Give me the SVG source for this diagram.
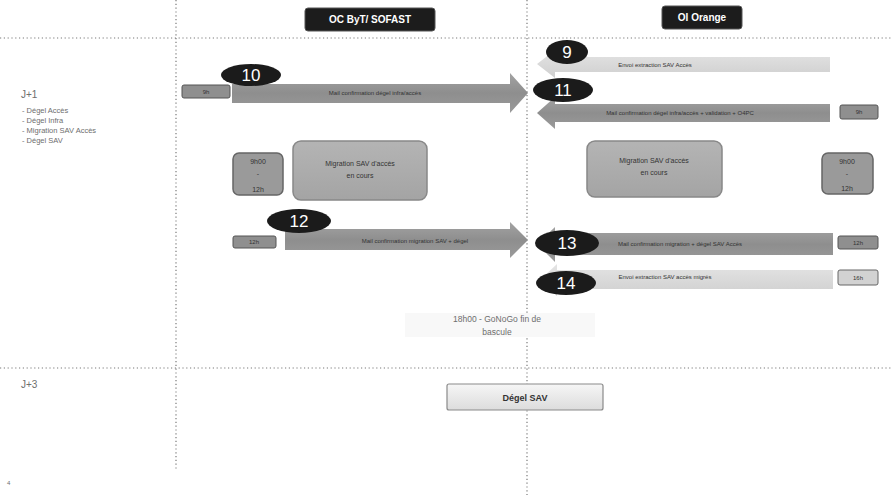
<svg xmlns="http://www.w3.org/2000/svg" width="893" height="503" viewBox="0 0 893 503">
<defs>
<linearGradient id="gDark" x1="0" y1="0" x2="0" y2="1">
<stop offset="0" stop-color="#a3a3a3"/><stop offset="0.5" stop-color="#8e8e8e"/><stop offset="1" stop-color="#9a9a9a"/>
</linearGradient>
<linearGradient id="gLight" x1="0" y1="0" x2="0" y2="1">
<stop offset="0" stop-color="#e4e4e4"/><stop offset="1" stop-color="#cfcfcf"/>
</linearGradient>
<linearGradient id="gBox" x1="0" y1="0" x2="0" y2="1">
<stop offset="0" stop-color="#b4b4b4"/><stop offset="1" stop-color="#a4a4a4"/>
</linearGradient>
<linearGradient id="gDegel" x1="0" y1="0" x2="0" y2="1">
<stop offset="0" stop-color="#f6f6f6"/><stop offset="1" stop-color="#dcdcdc"/>
</linearGradient>
</defs>
<style>
.grid{stroke:#7a7a7a;stroke-width:1.2;stroke-dasharray:1.2 2.6;fill:none}
.hdr{fill:#1c1c1c;stroke:#555;stroke-width:1}
.hdrt{font-family:"Liberation Sans",Arial,sans-serif;font-size:10px;font-weight:bold;fill:#fff;text-anchor:middle}
.lbl{font-family:"Liberation Sans",Arial,sans-serif;fill:#6e6e6e}
.num{fill:#1b1b1b}
.numt{font-family:"Liberation Sans",Arial,sans-serif;font-size:17px;fill:#fff;text-anchor:middle}
.at{font-family:"Liberation Sans",Arial,sans-serif;font-size:6px;fill:#333;text-anchor:middle}
.tbox{fill:#8f8f8f;stroke:#555;stroke-width:1}
.tboxl{fill:#d2d2d2;stroke:#666;stroke-width:1}
.tt{font-family:"Liberation Sans",Arial,sans-serif;font-size:6px;fill:#333;text-anchor:middle}
.mig{fill:url(#gBox);stroke:#888;stroke-width:1.5}
.migs{fill:#9a9a9a;stroke:#666;stroke-width:1.5}
.mt{font-family:"Liberation Sans",Arial,sans-serif;font-size:7px;fill:#333;text-anchor:middle}
</style>

<g id="grid">
<line class="grid" x1="0" y1="38" x2="893" y2="38"/>
<line class="grid" x1="0" y1="368" x2="893" y2="368"/>
<line class="grid" x1="176" y1="0" x2="176" y2="470"/>
<line class="grid" x1="527" y1="0" x2="527" y2="495"/>
</g>

<g id="header-oc">
<rect class="hdr" x="305" y="8" width="130" height="23" rx="3"/>
<text class="hdrt" x="370" y="23">OC ByT/ SOFAST</text>
</g>
<g id="header-oi">
<rect class="hdr" x="662" y="6" width="80" height="23" rx="3"/>
<text class="hdrt" x="702" y="21">OI Orange</text>
</g>

<g id="legend">
<text class="lbl" x="21" y="98" font-size="10">J+1</text>
<text class="lbl" x="22" y="113" font-size="7.5">-   Dégel Accès</text>
<text class="lbl" x="22" y="123" font-size="7.5">-   Dégel Infra</text>
<text class="lbl" x="22" y="133" font-size="7.5">-   Migration  SAV Accès</text>
<text class="lbl" x="22" y="143" font-size="7.5">-   Dégel SAV</text>
<text class="lbl" x="21" y="388" font-size="10">J+3</text>
<text class="lbl" x="7" y="485" font-size="6">4</text>
</g>

<g id="connectors">
<path d="M232 84 H510 V73 L528 93 L510 113 V103 H232 Z" fill="url(#gDark)"/>
<path d="M830 57 H555 V50 L537 64 L555 78 V72 H830 Z" fill="url(#gLight)"/>
<path d="M830 104 H555 V97 L537 113 L555 129 V122 H830 Z" fill="url(#gDark)"/>
<path d="M285 229 H510 V222 L528 240 L510 258 V250 H285 Z" fill="url(#gDark)"/>
<path d="M833 233 H555 V227 L537 244 L555 262 V255 H833 Z" fill="url(#gDark)"/>
<path d="M833 270 H557 V264 L540 280 L557 296 V289 H833 Z" fill="url(#gLight)"/>
<text class="at" x="375" y="95">Mail confirmation dégel infra/accès</text>
<text class="at" x="655" y="67">Envoi extraction SAV Accès</text>
<text class="at" x="680" y="115">Mail confirmation dégel infra/accès + validation + O4PC</text>
<text class="at" x="415" y="243">Mail confirmation migration SAV + dégel</text>
<text class="at" x="680" y="246">Mail confirmation migration + dégel SAV Accès</text>
<text class="at" x="665" y="279">Envoi extraction SAV accès migrés</text>
</g>

<g id="n9">
<ellipse class="num" cx="567" cy="52" rx="21" ry="12"/>
<text class="numt" x="567" y="58">9</text>
</g>
<g id="n10">
<ellipse class="num" cx="251" cy="75" rx="30" ry="11"/>
<text class="numt" x="251" y="81">10</text>
</g>
<g id="n11">
<ellipse class="num" cx="563" cy="90" rx="30" ry="12"/>
<text class="numt" x="563" y="96">11</text>
</g>
<g id="n12">
<ellipse class="num" cx="299" cy="221" rx="32" ry="12"/>
<text class="numt" x="299" y="227">12</text>
</g>
<g id="n13">
<ellipse class="num" cx="567" cy="243" rx="32" ry="13"/>
<text class="numt" x="567" y="249">13</text>
</g>
<g id="n14">
<ellipse class="num" cx="566" cy="283" rx="30" ry="12"/>
<text class="numt" x="566" y="289">14</text>
</g>

<g id="t9h-left">
<rect class="tbox" x="182" y="85" width="48" height="13" rx="2"/>
<text class="tt" x="206" y="94">9h</text>
</g>
<g id="t9h-right">
<rect class="tbox" x="840" y="105" width="38" height="14" rx="2"/>
<text class="tt" x="859" y="114">9h</text>
</g>
<g id="t12h-left">
<rect class="tbox" x="233" y="236" width="43" height="12" rx="2"/>
<text class="tt" x="254" y="244">12h</text>
</g>
<g id="t12h-right">
<rect class="tbox" x="838" y="236" width="40" height="13" rx="2"/>
<text class="tt" x="858" y="245">12h</text>
</g>
<g id="t16h-right">
<rect class="tboxl" x="838" y="270" width="40" height="15" rx="2"/>
<text class="tt" x="858" y="280">16h</text>
</g>

<g id="slot-left">
<rect class="migs" x="233" y="153" width="50" height="42" rx="6"/>
<text class="mt" x="258" y="164">9h00</text>
<text class="mt" x="258" y="176">-</text>
<text class="mt" x="258" y="192">12h</text>
</g>
<g id="mig-left">
<rect class="mig" x="293" y="141" width="134" height="59" rx="8"/>
<text class="mt" x="360" y="166">Migration  SAV d'accès</text>
<text class="mt" x="360" y="178">en cours</text>
</g>
<g id="mig-right">
<rect class="mig" x="587" y="141" width="135" height="56" rx="8"/>
<text class="mt" x="654" y="163">Migration  SAV d'accès</text>
<text class="mt" x="654" y="175">en cours</text>
</g>
<g id="slot-right">
<rect class="migs" x="822" y="153" width="51" height="41" rx="6"/>
<text class="mt" x="847" y="164">9h00</text>
<text class="mt" x="847" y="176">-</text>
<text class="mt" x="847" y="191">12h</text>
</g>

<g id="gonogo">
<rect x="405" y="313" width="190" height="24" fill="#f8f8f8"/>
<text class="lbl" x="497" y="322" font-size="8.5" text-anchor="middle">18h00 - GoNoGo  fin de</text>
<text class="lbl" x="497" y="335" font-size="8.5" text-anchor="middle">bascule</text>
</g>

<g id="degel-sav">
<rect x="447" y="384" width="156" height="26" rx="2" fill="url(#gDegel)" stroke="#8a8a8a" stroke-width="1.2"/>
<text x="525" y="401" font-family="'Liberation Sans',Arial,sans-serif" font-size="9" font-weight="bold" fill="#333" text-anchor="middle">Dégel SAV</text>
</g>
</svg>
